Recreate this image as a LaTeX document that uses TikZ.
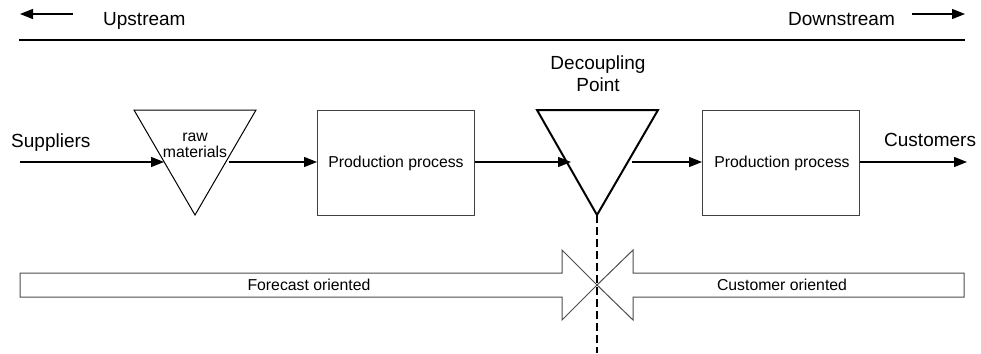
\documentclass[tikz,border=0pt]{standalone}
\usepackage{fontspec}
\setmainfont{Liberation Sans}
\usetikzlibrary{arrows.meta}
\begin{document}
\begin{tikzpicture}[x=1pt,y=-1pt,
  big/.style={font=\fontsize{19}{21}\selectfont, inner sep=0pt},
  small/.style={font=\fontsize{15.8}{17}\selectfont, inner sep=0pt},
  arr/.style={-{Triangle[length=13pt,width=10pt]}, line width=1.1pt},
  procbox/.style={draw=black!75, line width=1pt, minimum width=157pt, minimum height=105pt, inner sep=0pt},
  band/.style={draw=black!70, line width=1pt},
  dash line/.style={line width=1.3pt, dash pattern=on 8pt off 4pt}]
\useasboundingbox (0,0) rectangle (981,353);

% top header
\coordinate (ulA) at (73,14);
\coordinate (ulB) at (20,14);
\coordinate (drA) at (912,14);
\coordinate (drB) at (965,14);
\draw[arr] (ulA) -- (ulB);
\draw[arr] (drA) -- (drB);
\node[big, anchor=base west] (up) at (103,26) {Upstream};
\node[big, anchor=base west] (down) at (788,26) {Downstream};
\coordinate (hlA) at (19,40);
\coordinate (hlB) at (965,40);
\draw[line width=2pt] (hlA) -- (hlB);

% labels
\node[big, anchor=base west] (sup) at (11,147) {Suppliers};
\node[big, anchor=base west] (cust) at (884,146) {Customers};
\node[big, anchor=base] (dec) at (598,70) {Decoupling};
\node[big, anchor=base] (pt) at (598,91) {Point};

% raw materials triangle
\coordinate (r1) at (134,110);
\coordinate (r2) at (256,110);
\coordinate (r3) at (195,215);
\draw[line width=1pt, line join=miter] (r1) -- (r2) -- (r3) -- cycle;
\node[small, anchor=base] (raw) at (195,141) {raw};
\node[small, anchor=base] (mat) at (195,157) {materials};
\coordinate (rIn) at (164,162);
\coordinate (rOut) at (229,162);

% decoupling triangle
\coordinate (d1) at (537,110);
\coordinate (d2) at (658,110);
\coordinate (d3) at (597,215);
\draw[line width=2pt, line join=miter] (d1) -- (d2) -- (d3) -- cycle;
\coordinate (dIn) at (571,162);
\coordinate (dOut) at (632,162);

% production boxes
\node[procbox] (p1) at (396,162.5) {};
\node[small, anchor=base] (p1t) at (396,167) {Production process};
\node[procbox] (p2) at (781,162.5) {};
\node[small, anchor=base] (p2t) at (782,167) {Production process};

% flow arrows
\coordinate (sIn) at (20,162);
\coordinate (cOut) at (967,162);
\draw[arr] (sIn) -- (rIn);
\draw[arr] (rOut) -- (p1.west |- rOut);
\draw[arr] (p1.east |- dIn) -- (dIn);
\draw[arr] (dOut) -- (p2.west |- dOut);
\draw[arr] (p2.east |- cOut) -- (cOut);

% dashed line
\coordinate (dashEnd) at (597,353);
\draw[dash line] (d3) -- (dashEnd);

% band arrows
\coordinate (tip) at (597,285);
\draw[band, line join=miter] (20,273) -- (562,273) -- (562,250) -- (tip) -- (562,320) -- (562,297) -- (20,297) -- cycle;
\draw[band, line join=miter] (964,273) -- (633,273) -- (633,250) -- (tip) -- (633,320) -- (633,297) -- (964,297) -- cycle;
\node[small, anchor=base] (fo) at (309,290) {Forecast oriented};
\node[small, anchor=base] (co) at (782,290) {Customer oriented};
\end{tikzpicture}
\end{document}
